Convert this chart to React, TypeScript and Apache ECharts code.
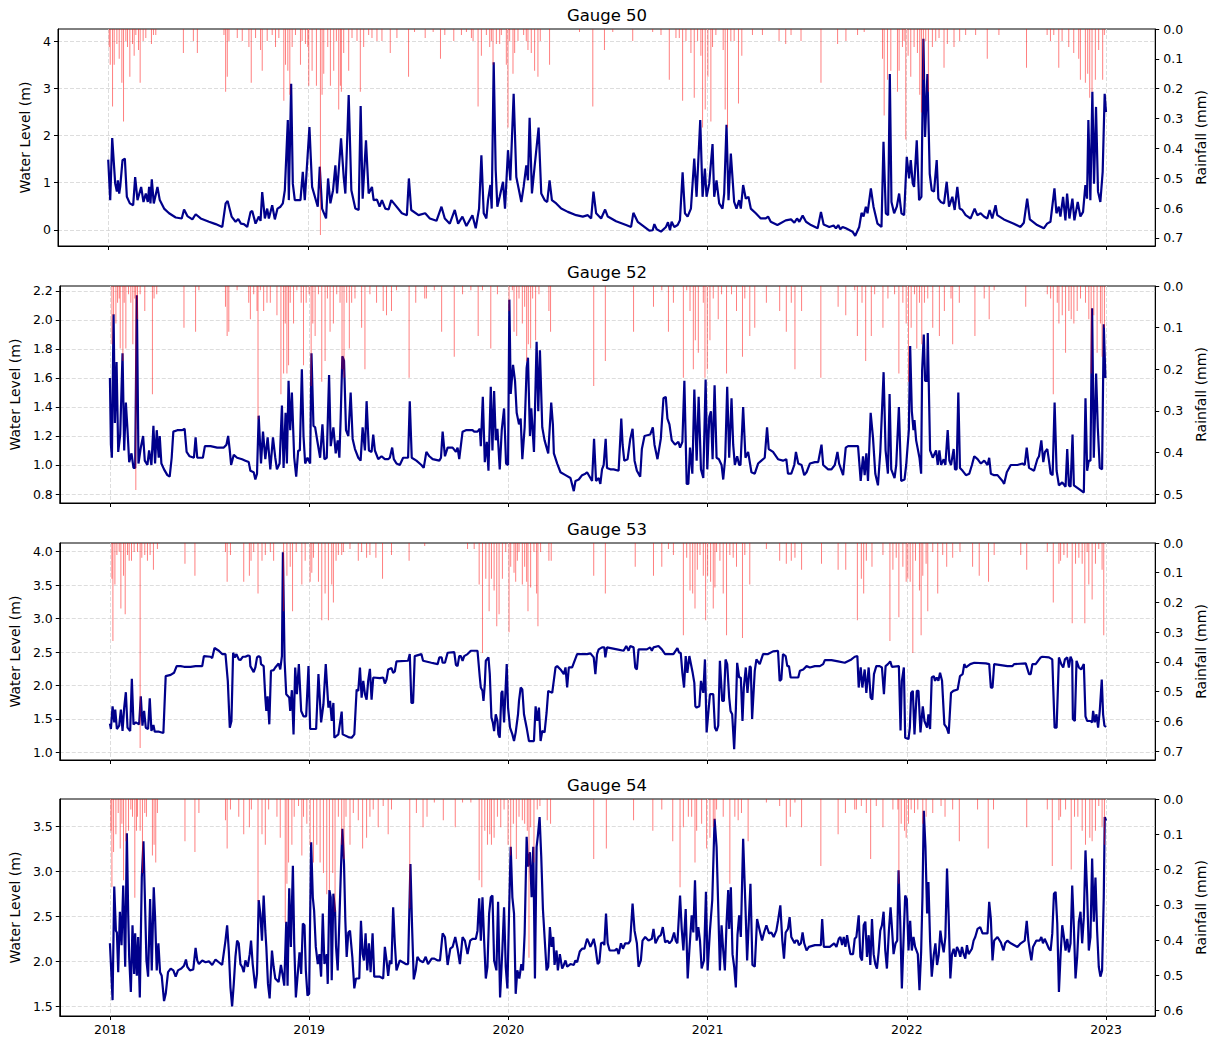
import React, { useEffect, useRef } from 'react';
import * as echarts from 'echarts';

// Time unit: months since 2018-01-01
const yearTicks = [2018, 2019, 2020, 2021, 2022, 2023];
const gaugeNames = ['Gauge 50', 'Gauge 52', 'Gauge 53', 'Gauge 54'];

const levelTicks50 = [0, 1, 2, 3, 4];
const levelTicks52 = [0.8, 1.0, 1.2, 1.4, 1.6, 1.8, 2.0, 2.2];
const levelTicks53 = [1.0, 1.5, 2.0, 2.5, 3.0, 3.5, 4.0];
const levelTicks54 = [1.5, 2.0, 2.5, 3.0, 3.5];
const rainTicks50 = [0, 0.1, 0.2, 0.3, 0.4, 0.5, 0.6, 0.7];
const rainTicks52 = [0, 0.1, 0.2, 0.3, 0.4, 0.5];
const rainTicks53 = [0, 0.1, 0.2, 0.3, 0.4, 0.5, 0.6, 0.7];
const rainTicks54 = [0, 0.1, 0.2, 0.3, 0.4, 0.5, 0.6];

const g50Level = [[0,1.49],[0.12,0.63],[0.24,1.95],[0.42,0.98],[0.52,0.81],[0.58,1.05],[0.66,0.77],[0.72,0.91],[0.86,1.48],[1.0,1.51],[1.12,0.7],[1.3,0.56],[1.5,0.52],[1.62,1.12],[1.76,0.63],[1.98,0.91],[2.12,0.59],[2.26,0.77],[2.38,0.59],[2.46,0.91],[2.54,0.56],[2.62,1.07],[2.74,0.56],[2.96,0.91],[3.1,0.63],[3.36,0.45],[3.66,0.35],[4.06,0.26],[4.42,0.24],[4.56,0.43],[4.76,0.29],[5.06,0.22],[5.26,0.33],[5.56,0.24],[6.06,0.17],[6.46,0.12],[6.86,0.06],[7.06,0.56],[7.18,0.61],[7.42,0.28],[7.66,0.17],[7.82,0.23],[7.98,0.13],[8.16,0.12],[8.36,0.06],[8.56,0.38],[8.66,0.4],[8.86,0.13],[9.06,0.28],[9.16,0.19],[9.26,0.8],[9.42,0.24],[9.56,0.45],[9.66,0.24],[9.86,0.52],[10.02,0.22],[10.18,0.45],[10.36,0.49],[10.5,0.56],[10.62,0.84],[10.8,2.33],[10.86,0.63],[11.0,3.1],[11.1,0.98],[11.22,0.63],[11.56,0.63],[11.7,1.23],[11.82,0.63],[12.1,2.18],[12.26,0.91],[12.6,0.49],[12.72,1.34],[12.86,0.45],[13.1,0.24],[13.22,1.09],[13.36,0.56],[13.52,0.84],[13.66,1.37],[13.76,0.77],[14.0,1.94],[14.16,1.12],[14.26,0.77],[14.46,2.86],[14.62,0.84],[14.86,0.45],[15.06,0.42],[15.18,2.63],[15.3,0.66],[15.5,1.9],[15.66,0.77],[15.86,0.91],[15.96,0.63],[16.16,0.64],[16.32,0.49],[16.46,0.63],[16.66,0.45],[16.86,0.43],[17.02,0.63],[17.66,0.35],[17.96,0.31],[18.08,1.09],[18.22,0.42],[18.66,0.31],[19.06,0.35],
[19.34,0.24],[19.74,0.19],[20.04,0.49],[20.24,0.24],[20.54,0.13],[20.84,0.42],[21.04,0.13],[21.3,0.28],[21.54,0.08],[21.9,0.31],[22.1,0.03],[22.3,0.45],[22.44,1.58],[22.58,0.35],[22.74,0.24],[22.84,0.63],[22.98,0.95],[23.06,0.45],[23.18,3.56],[23.3,1.27],[23.4,0.49],[23.54,0.7],[23.74,1.02],[23.86,0.45],[24.04,1.69],[24.18,1.05],[24.38,2.89],[24.54,1.12],[24.7,0.84],[24.84,0.59],[24.98,0.91],[25.14,1.37],[25.24,1.05],[25.34,2.38],[25.48,0.77],[25.64,1.34],[25.88,2.17],[26.04,0.77],[26.24,0.63],[26.4,0.59],[26.54,1.05],[26.68,0.63],[26.94,0.56],[27.24,0.45],[27.64,0.38],[28.14,0.31],[28.54,0.28],[28.84,0.31],[29.04,0.24],[29.18,0.81],[29.34,0.35],[29.64,0.24],[29.88,0.43],[30.04,0.28],[30.54,0.18],[31.14,0.1],[31.44,0.06],[31.58,0.36],[31.84,0.17],[32.54,-0.02],[32.74,-0.01],[32.84,0.12],[32.98,0.01],[33.24,-0.04],[33.54,0.06],[33.66,0.16],[33.78,-0.01],[33.88,0.17],[34.04,0.06],[34.24,0.1],[34.38,0.2],[34.54,1.22],[34.68,0.35],[34.84,0.28],[35.04,0.45],[35.24,1.51],[35.38,0.7],[35.6,2.33],[35.74,0.7],[35.88,1.3],[35.98,0.7],[36.14,0.98],[36.34,1.82],[36.44,0.7],[36.58,1.05],[36.74,0.56],[36.94,0.45],[37.04,0.77],[37.18,2.23],[37.3,0.63],[37.44,1.62],[37.64,0.59],[37.78,0.45],[37.94,0.63],[38.04,0.45],[38.18,0.95],[38.34,0.66],[38.5,0.7],[38.64,0.45],[38.94,0.35],[39.24,0.24],[39.54,0.24],[39.68,0.28],[39.84,0.17],[40.24,0.1],[40.74,0.2],
[41.06,0.22],[41.26,0.15],[41.42,0.24],[41.56,0.17],[41.76,0.3],[41.96,0.17],[42.26,0.1],[42.66,0.03],[42.86,0.38],[43.02,0.11],[43.36,0.06],[43.62,0.09],[43.76,0.03],[43.9,0.1],[44.02,0.01],[44.16,0.06],[44.36,0.03],[44.76,-0.04],[44.92,-0.13],[45.16,0.06],[45.3,0.36],[45.42,0.28],[45.56,0.49],[45.66,0.35],[45.86,0.88],[46.02,0.49],[46.26,0.13],[46.5,0.06],[46.62,1.87],[46.76,0.35],[46.9,0.31],[47.0,3.31],[47.1,0.59],[47.26,0.35],[47.42,0.49],[47.56,0.77],[47.7,0.35],[47.86,0.31],[48.02,1.55],[48.16,1.09],[48.26,1.48],[48.38,0.98],[48.46,0.91],[48.62,1.9],[48.76,0.63],[48.9,0.7],[49.02,4.06],[49.12,1.97],[49.26,3.31],[49.4,1.19],[49.52,0.84],[49.66,0.81],[49.82,1.48],[49.92,0.66],[50.06,0.59],[50.26,0.56],[50.42,1.02],[50.56,0.49],[50.76,0.7],[50.9,0.42],[51.06,0.91],[51.2,0.45],[51.36,0.42],[51.56,0.31],[51.86,0.24],[52.1,0.45],[52.26,0.31],[52.46,0.35],[52.66,0.28],[52.86,0.24],[53.0,0.42],[53.16,0.24],[53.36,0.52],[53.46,0.31],[53.86,0.22],[54.46,0.13],[54.86,0.06],[55.06,0.15],[55.26,0.66],[55.42,0.22],[55.86,0.1],[56.26,0.03],[56.46,0.13],[56.66,0.17],[56.9,0.88],[57.02,0.35],[57.16,0.49],[57.26,0.28],[57.42,0.7],[57.56,0.2],[57.66,0.77],[57.8,0.24],[57.98,0.66],[58.1,0.2],[58.3,0.59],[58.46,0.28],[58.62,0.38],[58.76,0.95],[58.86,0.66],[58.94,2.33],[59.06,0.63],[59.18,2.93],[59.28,0.98],[59.4,2.61],[59.52,0.81],[59.66,0.59],[59.8,1.23],[59.92,2.89],[60.0,2.5]];

const g50Rain = [[0.06,0.06],[0.12,0.12],[0.26,0.26],[0.36,0.12],[0.52,0.05],[0.66,0.1],[0.82,0.18],[0.92,0.31],[1.06,0.04],[1.16,0.06],[1.3,0.16],[1.46,0.05],[1.56,0.09],[1.66,0.02],[1.82,0.07],[1.92,0.18],[2.1,0.04],[2.26,0.03],[2.6,0.05],[2.72,0.02],[2.86,0.02],[4.52,0.08],[5.12,0.04],[5.36,0.08],[6.96,0.02],[7.06,0.21],[7.16,0.16],[7.26,0.04],[7.76,0.03],[8.06,0.04],[8.46,0.06],[8.6,0.18],[8.86,0.03],[9.16,0.07],[9.26,0.14],[9.56,0.04],[9.86,0.02],[10.06,0.06],[10.26,0.03],[10.56,0.24],[10.66,0.12],[10.8,0.14],[10.92,0.22],[11.06,0.06],[11.26,0.02],[11.56,0.12],[11.66,0.04],[11.86,0.05],[12.0,0.06],[12.06,0.19],[12.26,0.14],[12.52,0.19],[12.76,0.69],[12.86,0.22],[12.96,0.15],[13.2,0.06],[13.36,0.19],[13.56,0.14],[13.72,0.04],[13.86,0.27],[13.96,0.19],[14.02,0.21],[14.16,0.08],[14.46,0.14],[14.66,0.03],[14.96,0.04],[15.16,0.21],[15.36,0.06],[15.66,0.02],[15.86,0.03],[16.16,0.04],[16.46,0.04],[16.96,0.08],[17.36,0.03],[18.06,0.16],[18.42,0.01],[19.06,0.03],
[19.54,0.01],[19.98,0.1],[20.24,0.02],[20.78,0.04],[21.24,0.02],[21.54,0.01],[21.84,0.03],[21.94,0.04],[22.24,0.26],[22.44,0.09],[22.74,0.02],[22.94,0.06],[23.04,0.04],[23.14,0.12],[23.34,0.05],[23.54,0.05],[23.64,0.02],[23.94,0.12],[24.04,0.33],[24.14,0.04],[24.34,0.15],[24.44,0.08],[24.64,0.04],[24.98,0.02],[25.14,0.04],[25.24,0.07],[25.44,0.08],[25.64,0.14],[25.84,0.16],[25.98,0.04],[26.54,0.12],[28.34,0.01],[29.14,0.26],[29.84,0.07],[30.34,0.01],[31.54,0.04],[32.74,0.01],[33.24,0.02],[33.74,0.17],[34.14,0.03],[34.34,0.03],[34.54,0.24],[34.74,0.04],[35.04,0.08],[35.24,0.23],[35.44,0.04],[35.64,0.09],[35.74,0.33],[35.9,0.27],[36.06,0.16],[36.24,0.31],[36.34,0.06],[36.54,0.02],[36.98,0.07],[37.1,0.27],[37.24,0.33],[37.44,0.04],[37.64,0.04],[37.9,0.25],[38.1,0.09],[38.74,0.02],[39.34,0.02],[40.34,0.04],[40.74,0.05],
[41.06,0.02],[41.66,0.04],[42.86,0.18],[43.86,0.05],[44.36,0.04],[45.06,0.02],[45.46,0.01],[46.56,0.1],[46.66,0.29],[46.86,0.17],[47.06,0.14],[47.46,0.21],[47.56,0.14],[47.76,0.06],[47.86,0.04],[47.96,0.37],[48.1,0.09],[48.26,0.16],[48.46,0.06],[48.66,0.08],[48.8,0.22],[48.9,0.28],[49.02,0.17],[49.16,0.04],[49.32,0.21],[49.56,0.06],[49.76,0.04],[49.96,0.03],[50.26,0.13],[50.46,0.05],[50.86,0.06],[51.2,0.04],[51.56,0.02],[52.16,0.02],[52.86,0.1],[53.56,0.02],[55.22,0.13],[56.46,0.02],[56.66,0.04],[56.86,0.02],[57.16,0.13],[57.36,0.04],[57.76,0.06],[58.06,0.08],[58.36,0.1],[58.46,0.17],[58.76,0.18],[58.9,0.15],[59.02,0.23],[59.16,0.21],[59.36,0.17],[59.56,0.07],[59.8,0.17],[59.9,0.02]];

const g52Level = [[0,1.6],[0.06,1.14],[0.12,1.05],[0.22,2.04],[0.3,1.29],[0.4,1.71],[0.5,1.09],[0.62,1.21],[0.76,1.77],[0.86,1.1],[0.96,1.43],[1.06,1.24],[1.16,1.02],[1.3,1.08],[1.42,0.98],[1.52,0.98],[1.62,2.17],[1.72,1.01],[1.86,1.12],[2.0,1.2],[2.1,1.03],[2.26,1.0],[2.36,1.1],[2.5,1.0],[2.62,1.27],[2.72,1.01],[2.82,1.24],[2.94,1.05],[3.0,1.2],[3.1,1.01],[3.26,0.97],[3.46,0.93],[3.6,0.92],[3.72,1.05],[3.82,1.23],[4.06,1.24],[4.36,1.24],[4.5,1.25],[4.62,1.09],[4.8,1.06],[5.06,1.05],[5.16,1.19],[5.26,1.05],[5.6,1.05],[5.72,1.13],[6.06,1.13],[6.46,1.12],[6.86,1.12],[7.02,1.14],[7.12,1.2],[7.22,1.1],[7.3,1.0],[7.46,1.07],[7.66,1.05],[7.96,1.04],[8.16,1.03],[8.36,1.02],[8.46,0.96],[8.66,0.95],[8.76,0.9],[8.86,0.94],[8.96,1.34],[9.1,1.01],[9.22,1.23],[9.36,1.04],[9.5,1.19],[9.66,0.97],[9.82,1.19],[9.96,1.05],[10.06,0.97],[10.22,1.01],[10.36,1.41],[10.46,0.98],[10.58,1.36],[10.66,1.01],[10.76,1.58],[10.86,1.24],[10.96,1.5],[11.1,1.05],[11.22,0.92],[11.34,1.1],[11.44,1.1],[11.56,1.66],[11.66,1.2],[11.76,1.01],[11.9,1.05],[12.06,1.01],[12.14,1.77],[12.26,1.27],[12.36,1.26],[12.5,1.16],[12.66,1.05],[12.8,1.28],[12.92,1.04],[13.06,1.05],[13.2,1.62],[13.3,1.13],[13.46,1.26],[13.6,1.08],[13.72,1.17],[13.82,1.05],[13.9,1.33],[14.0,1.75],[14.1,1.72],[14.22,1.24],[14.36,1.2],[14.5,1.5],[14.62,1.18],[14.76,1.11],[14.96,1.05],[15.1,1.03],[15.22,1.26],[15.36,1.1],[15.46,1.44],[15.6,1.1],[15.76,1.09],[15.86,1.21],[15.96,1.1],[16.16,1.04],[16.36,1.06],[16.56,1.04],[16.76,1.04],[16.86,1.05],[17.0,1.12],[17.1,1.04],[17.26,1.01],[17.46,1.0],[17.66,1.05],[17.96,1.05],[18.06,1.44],[18.18,1.05],[18.46,1.03],[18.76,1.0],[18.9,0.98],[19.06,1.09],
[19.24,1.06],[19.44,1.04],[19.84,1.03],[19.94,1.05],[20.04,1.23],[20.18,1.06],[20.34,1.12],[20.64,1.12],[20.84,1.09],[20.94,1.12],[21.04,1.04],[21.24,1.23],[21.44,1.24],[21.84,1.24],[21.94,1.23],[22.14,1.23],[22.28,1.25],[22.34,1.13],[22.46,1.47],[22.58,1.02],[22.7,1.16],[22.8,0.96],[22.94,1.54],[23.04,1.1],[23.14,1.51],[23.24,1.17],[23.34,1.25],[23.48,0.97],[23.6,1.24],[23.74,1.39],[23.86,1.01],[23.98,1.0],[24.06,2.14],[24.14,1.49],[24.28,1.69],[24.4,1.58],[24.5,1.36],[24.64,1.28],[24.74,1.32],[24.84,1.04],[24.98,1.26],[25.1,1.67],[25.18,1.74],[25.3,1.2],[25.38,1.39],[25.54,1.09],[25.7,1.85],[25.8,1.37],[25.9,1.79],[26.04,1.26],[26.18,1.17],[26.4,1.08],[26.58,1.43],[26.68,1.28],[26.74,1.08],[26.94,1.01],[27.14,0.95],[27.44,0.93],[27.74,0.91],[27.94,0.82],[28.04,0.89],[28.24,0.9],[28.44,0.93],[28.64,0.94],[28.74,0.95],[28.94,0.91],[29.04,0.89],[29.16,1.18],[29.28,0.89],[29.44,0.91],[29.54,0.87],[29.64,0.97],[29.74,1.0],[29.86,1.18],[29.94,0.98],[30.14,0.97],[30.34,0.97],[30.64,0.96],[30.74,1.18],[30.8,1.32],[30.88,1.14],[30.98,1.03],[31.18,1.04],[31.34,1.18],[31.48,1.25],[31.6,1.03],[31.74,0.96],[31.94,0.92],[32.04,1.11],[32.2,1.2],[32.54,1.21],[32.7,1.26],[32.8,1.14],[32.98,1.04],[33.18,1.18],[33.34,1.46],[33.48,1.47],[33.58,1.32],[33.7,1.28],[33.84,1.17],[34.04,1.14],[34.24,1.16],[34.34,1.12],[34.48,1.16],[34.6,1.58],[34.74,0.87],[34.84,0.87],[34.94,1.12],[35.08,0.94],[35.2,1.52],[35.34,1.03],[35.46,1.47],[35.6,0.97],[35.74,0.91],[35.88,1.59],[35.98,0.97],[36.1,1.33],[36.2,1.37],[36.3,1.04],[36.42,1.55],[36.54,1.05],[36.68,1.04],[36.84,1.0],[36.94,0.9],[37.06,1.05],[37.18,1.54],[37.3,1.05],[37.44,1.46],[37.54,1.14],[37.64,1.0],[37.78,1.06],[37.9,1.0],[37.98,1.0],[38.14,1.4],[38.28,1.05],[38.44,1.09],[38.64,0.95],[38.84,0.94],[39.04,1.01],[39.24,1.03],[39.44,1.05],[39.58,1.26],[39.68,1.11],[39.94,1.09],[40.24,1.04],[40.54,1.03],[40.74,1.04],[40.84,0.94],[41.04,0.94],
[41.22,1.0],[41.32,1.09],[41.46,1.01],[41.66,1.0],[41.82,0.93],[41.96,0.95],[42.16,1.01],[42.46,1.02],[42.66,1.02],[42.86,1.14],[42.96,1.0],[43.26,0.97],[43.46,0.97],[43.66,1.0],[43.82,1.09],[43.92,1.01],[44.16,0.93],[44.32,1.12],[44.46,1.13],[44.86,1.13],[45.06,1.13],[45.22,0.89],[45.36,1.06],[45.46,0.93],[45.56,1.08],[45.66,0.89],[45.82,1.36],[45.96,1.19],[46.1,0.94],[46.26,0.86],[46.4,1.09],[46.6,1.64],[46.72,1.1],[46.86,0.94],[46.96,1.49],[47.06,0.97],[47.26,0.91],[47.36,1.0],[47.52,1.4],[47.66,0.89],[47.86,0.9],[47.96,1.0],[48.12,1.24],[48.2,1.82],[48.3,1.37],[48.4,1.24],[48.46,1.31],[48.56,1.17],[48.76,1.05],[48.86,0.94],[48.92,1.65],[49.02,1.9],[49.1,1.58],[49.22,1.58],[49.26,1.91],[49.4,1.1],[49.56,1.05],[49.76,1.1],[49.86,1.0],[49.96,1.1],[50.06,1.0],[50.22,1.04],[50.32,1.0],[50.46,1.24],[50.56,1.03],[50.66,1.0],[50.82,1.11],[50.9,0.97],[51.0,0.97],[51.1,1.5],[51.2,0.98],[51.36,0.96],[51.56,0.93],[51.76,0.94],[51.92,1.0],[52.06,1.06],[52.26,1.04],[52.46,1.01],[52.66,1.03],[52.86,1.0],[52.96,1.05],[53.06,0.94],[53.26,0.93],[53.46,0.93],[53.76,0.89],[53.86,0.87],[54.02,0.95],[54.26,1.0],[54.66,1.0],[54.96,1.01],[55.1,1.0],[55.22,1.12],[55.36,0.98],[55.66,0.96],[55.86,1.04],[55.96,1.06],[56.1,1.17],[56.22,1.02],[56.32,1.09],[56.46,1.11],[56.56,1.03],[56.66,0.94],[56.78,0.93],[56.9,1.43],[57.02,0.96],[57.16,0.86],[57.36,0.88],[57.56,0.85],[57.66,1.11],[57.76,0.86],[57.86,0.85],[57.98,1.21],[58.06,0.86],[58.42,0.83],[58.66,0.81],[58.76,1.46],[58.86,0.96],[58.96,1.03],[59.06,1.03],[59.16,2.08],[59.26,1.05],[59.4,1.63],[59.5,1.26],[59.62,0.98],[59.76,0.97],[59.86,1.97],[59.96,1.6]];

const g52Rain = [[0.12,0.14],[0.22,0.07],[0.36,0.09],[0.46,0.04],[0.56,0.03],[0.62,0.15],[0.78,0.18],[0.86,0.04],[0.96,0.15],[1.12,0.02],[1.26,0.04],[1.38,0.14],[1.5,0.03],[1.56,0.49],[1.66,0.08],[1.82,0.02],[2.1,0.06],[2.56,0.26],[2.66,0.03],[2.82,0.02],[4.46,0.1],[5.16,0.11],[5.36,0.01],[6.96,0.05],[7.06,0.12],[7.16,0.11],[7.66,0.01],[8.36,0.04],[8.46,0.08],[8.66,0.02],[8.86,0.06],[8.92,0.32],[9.06,0.01],[9.26,0.06],[9.46,0.04],[9.66,0.04],[10.06,0.07],[10.3,0.26],[10.46,0.21],[10.56,0.09],[10.66,0.21],[10.76,0.19],[10.86,0.04],[11.06,0.09],[11.26,0.01],[11.52,0.04],[11.66,0.19],[11.82,0.04],[12.0,0.02],[12.12,0.24],[12.22,0.09],[12.36,0.12],[12.56,0.02],[12.76,0.23],[12.96,0.18],[13.1,0.03],[13.26,0.11],[13.46,0.09],[13.66,0.02],[13.86,0.04],[13.98,0.2],[14.1,0.22],[14.26,0.04],[14.42,0.15],[14.56,0.04],[14.76,0.03],[15.16,0.1],[15.36,0.2],[15.66,0.02],[16.06,0.04],[16.46,0.06],[16.66,0.07],[16.96,0.06],[17.26,0.01],[18.02,0.22],[18.42,0.04],[18.96,0.03],[19.06,0.03],
[19.54,0.01],[19.98,0.11],[20.74,0.17],[21.24,0.02],[21.74,0.01],[22.18,0.12],[22.44,0.01],[22.94,0.15],[23.34,0.02],[24.04,0.06],[24.24,0.01],[24.34,0.11],[24.5,0.12],[24.64,0.03],[24.84,0.09],[24.98,0.05],[25.1,0.18],[25.2,0.14],[25.34,0.15],[25.46,0.03],[25.64,0.13],[25.84,0.02],[26.44,0.06],[26.54,0.11],[29.14,0.24],[29.84,0.18],[31.54,0.11],[32.74,0.05],[33.24,0.01],[33.64,0.11],[33.94,0.04],[34.54,0.22],[34.74,0.01],[34.94,0.06],[35.14,0.2],[35.26,0.13],[35.44,0.16],[35.74,0.04],[35.84,0.22],[35.98,0.2],[36.14,0.13],[36.34,0.03],[36.64,0.08],[36.84,0.02],[37.14,0.21],[37.44,0.02],[37.74,0.06],[38.1,0.17],[38.24,0.03],[38.54,0.12],[38.84,0.1],[39.54,0.04],[40.34,0.06],[40.74,0.11],[41.04,0.04],
[41.26,0.2],[41.66,0.06],[42.82,0.22],[43.86,0.05],[44.32,0.07],[44.86,0.01],[45.02,0.12],[45.3,0.04],[45.52,0.18],[45.86,0.12],[46.06,0.02],[46.56,0.1],[46.86,0.03],[47.26,0.02],[47.52,0.21],[47.76,0.04],[47.96,0.09],[48.1,0.23],[48.26,0.1],[48.46,0.02],[48.6,0.15],[48.76,0.04],[48.9,0.14],[49.06,0.04],[49.26,0.03],[49.56,0.1],[49.96,0.12],[50.26,0.06],[50.66,0.03],[50.76,0.14],[51.16,0.04],[52.1,0.12],[52.66,0.03],[52.96,0.08],[53.26,0.01],[55.16,0.05],[56.46,0.02],[56.66,0.03],[56.82,0.26],[57.06,0.04],[57.16,0.09],[57.36,0.07],[57.56,0.16],[57.76,0.06],[57.9,0.08],[58.06,0.09],[58.26,0.06],[58.46,0.03],[58.76,0.04],[58.96,0.08],[59.1,0.21],[59.26,0.07],[59.46,0.16],[59.66,0.09],[59.76,0.17],[59.9,0.1]];

const g53Level = [[0,1.43],[0.06,1.35],[0.16,1.69],[0.26,1.45],[0.32,1.64],[0.42,1.35],[0.56,1.4],[0.66,1.64],[0.76,1.32],[0.86,1.67],[0.96,1.9],[1.06,1.37],[1.22,1.32],[1.32,2.1],[1.42,1.42],[1.56,1.45],[1.76,1.42],[1.86,1.84],[1.96,1.4],[2.06,1.62],[2.16,1.37],[2.3,1.35],[2.4,1.81],[2.5,1.32],[2.62,1.41],[2.7,1.31],[2.96,1.31],[3.22,1.29],[3.36,2.14],[3.66,2.16],[3.86,2.19],[4.02,2.29],[4.26,2.29],[4.46,2.28],[4.86,2.28],[5.16,2.29],[5.56,2.29],[5.66,2.44],[6.06,2.43],[6.16,2.41],[6.3,2.56],[6.56,2.52],[6.76,2.47],[6.96,2.47],[7.1,2.07],[7.22,1.37],[7.32,1.47],[7.42,2.49],[7.52,2.42],[7.62,2.47],[7.76,2.39],[7.86,2.38],[8.0,2.43],[8.16,2.43],[8.32,2.45],[8.42,2.44],[8.46,2.29],[8.66,2.2],[8.76,2.27],[8.86,2.42],[8.96,2.44],[9.06,2.42],[9.1,2.32],[9.26,2.29],[9.36,1.82],[9.42,1.62],[9.5,1.84],[9.6,1.42],[9.7,2.22],[9.86,2.23],[9.96,2.27],[10.16,2.33],[10.26,2.24],[10.36,2.44],[10.42,3.99],[10.52,2.37],[10.62,1.87],[10.8,1.82],[10.86,1.62],[10.96,1.93],[11.06,1.27],[11.16,2.27],[11.26,1.87],[11.38,2.32],[11.52,1.62],[11.66,1.54],[11.82,1.54],[11.96,2.29],[12.06,1.35],[12.26,1.35],[12.42,1.35],[12.56,2.17],[12.72,1.45],[12.86,1.72],[13.0,2.32],[13.16,1.67],[13.26,1.77],[13.36,1.47],[13.46,1.74],[13.52,1.22],[13.76,1.27],[13.96,1.61],[14.02,1.27],[14.36,1.23],[14.56,1.22],[14.72,1.27],[14.86,1.94],[14.96,1.92],[15.06,2.27],[15.16,1.82],[15.26,2.07],[15.36,1.87],[15.46,1.79],[15.56,2.08],[15.66,2.25],[15.76,1.79],[15.86,2.12],[16.26,2.11],[16.46,2.12],[16.56,2.03],[16.66,2.09],[16.76,2.24],[16.96,2.26],[17.06,2.19],[17.16,2.21],[17.26,2.36],[17.96,2.37],[18.06,2.47],[18.16,1.74],[18.26,1.74],[18.36,2.44],[18.76,2.47],[18.86,2.37],[19.36,2.34],
[19.54,2.33],[19.74,2.32],[19.84,2.42],[19.98,2.42],[20.04,2.34],[20.18,2.34],[20.34,2.49],[20.74,2.5],[20.84,2.31],[20.94,2.29],[21.04,2.44],[21.14,2.44],[21.24,2.37],[21.34,2.44],[21.54,2.47],[21.74,2.52],[22.14,2.52],[22.28,2.12],[22.34,1.97],[22.44,1.92],[22.5,1.77],[22.58,2.02],[22.64,2.37],[22.8,2.42],[22.88,2.17],[22.98,1.52],[23.06,1.45],[23.14,1.32],[23.24,1.57],[23.34,1.47],[23.4,1.27],[23.48,1.22],[23.58,1.89],[23.64,1.92],[23.74,1.45],[23.9,2.32],[23.98,1.67],[24.1,1.37],[24.24,1.27],[24.34,1.17],[24.44,1.3],[24.58,1.57],[24.64,1.77],[24.74,1.97],[24.84,1.94],[24.94,1.57],[25.1,1.37],[25.24,1.17],[25.54,1.17],[25.64,1.69],[25.74,1.47],[25.84,1.67],[25.94,1.17],[26.04,1.32],[26.18,1.3],[26.3,1.59],[26.4,1.92],[26.64,1.89],[26.84,2.27],[26.94,2.29],[27.14,2.24],[27.34,2.17],[27.44,2.27],[27.54,1.97],[27.64,2.27],[27.84,2.27],[28.14,2.47],[28.74,2.47],[28.94,2.48],[29.14,2.42],[29.24,2.17],[29.34,2.47],[29.44,2.54],[29.64,2.57],[29.78,2.57],[29.84,2.42],[29.94,2.57],[30.54,2.54],[30.94,2.52],[31.1,2.59],[31.24,2.52],[31.34,2.59],[31.54,2.57],[31.64,2.27],[31.74,2.24],[31.84,2.54],[32.34,2.54],[32.54,2.57],[32.64,2.52],[32.74,2.57],[33.04,2.59],[33.24,2.54],[33.44,2.47],[33.94,2.47],[34.18,2.56],[34.28,2.49],[34.38,2.49],[34.48,2.19],[34.58,1.97],[34.68,2.44],[34.78,2.19],[34.9,2.44],[35.1,2.19],[35.2,2.04],[35.26,1.69],[35.34,1.67],[35.5,1.69],[35.6,2.07],[35.74,1.89],[35.84,2.39],[35.94,1.3],[36.14,1.87],[36.34,1.87],[36.44,1.37],[36.54,1.32],[36.64,1.4],[36.74,2.37],[36.88,1.77],[36.98,1.77],[37.08,2.39],[37.18,2.32],[37.3,1.82],[37.38,1.62],[37.48,1.57],[37.6,1.05],[37.7,1.64],[37.78,2.34],[37.9,2.12],[38.0,2.12],[38.1,1.47],[38.18,1.97],[38.3,2.27],[38.4,1.89],[38.54,2.29],[38.6,2.27],[38.68,1.5],[38.84,2.22],[38.94,2.39],[39.14,2.32],[39.34,2.47],[39.64,2.47],[39.94,2.51],[40.24,2.52],[40.34,2.07],[40.44,2.09],[40.54,2.47],[40.7,2.44],[40.8,2.29],[40.9,2.29],[41.0,2.12],
[41.26,2.12],[41.46,2.12],[41.56,2.22],[41.76,2.24],[41.96,2.29],[42.16,2.27],[42.46,2.29],[42.76,2.29],[42.96,2.32],[43.06,2.38],[43.46,2.38],[43.86,2.36],[44.26,2.34],[44.66,2.39],[44.86,2.43],[45.02,2.44],[45.1,1.97],[45.22,2.27],[45.32,1.97],[45.46,2.24],[45.56,1.89],[45.7,2.27],[45.82,1.82],[45.92,1.79],[46.02,2.17],[46.16,2.29],[46.36,2.29],[46.5,2.27],[46.62,1.87],[46.72,2.29],[46.86,2.32],[47.0,2.36],[47.1,2.28],[47.52,2.29],[47.62,1.33],[47.7,2.07],[47.82,2.27],[47.9,1.22],[48.1,1.2],[48.18,1.37],[48.26,1.89],[48.36,1.92],[48.46,1.27],[48.6,1.92],[48.7,1.92],[48.82,1.3],[48.96,1.69],[49.06,1.47],[49.22,1.37],[49.3,1.57],[49.4,1.35],[49.5,2.12],[49.62,2.14],[49.7,2.07],[49.8,2.12],[49.9,2.07],[50.0,2.19],[50.12,2.07],[50.26,1.42],[50.4,1.37],[50.52,1.28],[50.66,1.89],[50.8,1.92],[51.06,1.94],[51.2,2.14],[51.36,2.17],[51.46,2.32],[51.56,2.27],[51.82,2.32],[52.06,2.34],[52.76,2.33],[52.96,2.32],[53.06,1.97],[53.16,1.97],[53.26,2.32],[54.06,2.29],[54.36,2.29],[54.46,2.32],[55.16,2.33],[55.36,2.17],[55.46,2.17],[55.56,2.32],[55.76,2.32],[56.06,2.42],[56.16,2.43],[56.56,2.42],[56.76,2.39],[56.9,1.37],[57.02,1.37],[57.16,2.42],[57.3,2.32],[57.42,2.27],[57.52,2.39],[57.66,2.42],[57.76,2.27],[57.86,2.43],[57.96,2.37],[58.0,1.5],[58.12,1.47],[58.22,2.37],[58.36,2.27],[58.5,2.24],[58.66,2.32],[58.76,1.54],[58.86,1.47],[59.06,1.47],[59.16,1.45],[59.22,1.62],[59.32,1.45],[59.42,1.57],[59.52,1.37],[59.62,1.62],[59.74,2.09],[59.82,1.57],[59.9,1.4],[60.0,1.38]];

const g53Rain = [[0.12,0.12],[0.18,0.33],[0.3,0.14],[0.42,0.04],[0.56,0.03],[0.66,0.22],[0.82,0.11],[0.92,0.24],[1.06,0.04],[1.16,0.06],[1.3,0.06],[1.46,0.03],[1.66,0.03],[1.82,0.69],[1.92,0.05],[2.1,0.04],[2.26,0.06],[2.42,0.04],[2.62,0.09],[2.86,0.02],[4.52,0.07],[5.12,0.11],[6.96,0.03],[7.06,0.13],[7.26,0.04],[8.06,0.13],[8.4,0.11],[8.5,0.06],[8.66,0.03],[8.92,0.17],[9.16,0.06],[9.36,0.04],[9.66,0.03],[9.86,0.06],[10.46,0.23],[10.66,0.11],[10.86,0.08],[11.0,0.23],[11.22,0.03],[11.56,0.14],[11.76,0.06],[12.06,0.13],[12.16,0.1],[12.26,0.05],[12.56,0.13],[12.76,0.26],[12.96,0.17],[13.16,0.26],[13.36,0.14],[13.46,0.2],[13.62,0.06],[13.76,0.04],[13.96,0.04],[14.06,0.03],[14.46,0.02],[14.96,0.06],[15.16,0.03],[15.46,0.05],[15.66,0.04],[16.02,0.05],[16.42,0.12],[16.96,0.04],[18.02,0.06],[18.96,0.01],
[21.54,0.02],[21.94,0.02],[22.24,0.14],[22.44,0.37],[22.64,0.12],[22.84,0.23],[22.98,0.12],[23.14,0.16],[23.3,0.28],[23.44,0.24],[23.64,0.12],[23.84,0.03],[24.04,0.3],[24.14,0.08],[24.34,0.1],[24.44,0.13],[24.54,0.06],[24.64,0.03],[24.84,0.14],[24.98,0.08],[25.1,0.13],[25.18,0.23],[25.34,0.15],[25.54,0.03],[25.7,0.17],[25.78,0.28],[25.94,0.03],[26.44,0.06],[26.58,0.06],[29.14,0.11],[29.84,0.17],[31.64,0.08],[32.74,0.11],[33.24,0.08],[33.64,0.02],[33.94,0.04],[34.54,0.31],[34.74,0.05],[34.94,0.16],[35.1,0.17],[35.24,0.22],[35.38,0.09],[35.54,0.04],[35.74,0.11],[35.88,0.26],[36.0,0.11],[36.18,0.13],[36.34,0.22],[36.44,0.15],[36.54,0.03],[36.74,0.06],[36.94,0.17],[37.14,0.31],[37.34,0.04],[37.54,0.05],[37.74,0.08],[38.1,0.32],[38.24,0.04],[38.54,0.14],[39.54,0.02],[40.34,0.06],[40.74,0.07],[41.04,0.06],
[41.26,0.05],[41.66,0.09],[42.86,0.07],[43.86,0.09],[44.32,0.09],[45.02,0.26],[45.26,0.12],[45.4,0.17],[45.56,0.06],[45.9,0.08],[46.56,0.04],[46.98,0.33],[47.16,0.09],[47.36,0.05],[47.52,0.25],[47.76,0.08],[47.96,0.13],[48.06,0.12],[48.2,0.13],[48.36,0.37],[48.52,0.06],[48.76,0.16],[48.86,0.31],[48.96,0.11],[49.16,0.07],[49.26,0.23],[49.56,0.03],[49.86,0.17],[50.16,0.04],[50.4,0.08],[50.76,0.05],[51.2,0.03],[51.96,0.08],[52.36,0.11],[52.92,0.13],[53.26,0.04],[54.86,0.04],[55.22,0.09],[56.46,0.03],[56.82,0.2],[57.16,0.07],[57.26,0.06],[57.46,0.04],[57.66,0.05],[57.96,0.27],[58.16,0.07],[58.36,0.05],[58.56,0.07],[58.72,0.27],[58.86,0.03],[58.96,0.14],[59.16,0.19],[59.36,0.07],[59.56,0.02],[59.76,0.09],[59.86,0.31]];

const g54Level = [[0,2.2],[0.06,1.97],[0.16,1.57],[0.26,2.83],[0.36,2.34],[0.42,2.32],[0.5,1.88],[0.6,2.55],[0.7,2.18],[0.8,2.84],[0.92,1.94],[1.02,3.42],[1.1,2.53],[1.16,2.05],[1.26,1.66],[1.36,2.4],[1.46,1.86],[1.52,2.31],[1.62,1.84],[1.7,2.27],[1.8,1.6],[1.92,2.93],[2.02,3.33],[2.1,2.75],[2.2,2.01],[2.3,1.83],[2.42,2.69],[2.52,1.9],[2.64,2.82],[2.72,2.49],[2.82,1.9],[2.92,2.2],[3.02,1.88],[3.12,1.84],[3.26,1.56],[3.36,1.64],[3.5,1.88],[3.66,1.92],[3.82,1.9],[3.96,1.83],[4.1,1.9],[4.3,1.92],[4.46,1.95],[4.58,2.02],[4.66,1.94],[4.82,1.9],[5.02,1.91],[5.16,2.15],[5.26,2.01],[5.36,1.97],[5.56,2.01],[5.76,1.99],[5.96,2.0],[6.16,1.96],[6.36,2.02],[6.56,1.99],[6.76,1.96],[6.96,2.23],[7.06,2.4],[7.16,2.12],[7.26,1.71],[7.36,1.5],[7.46,1.75],[7.56,2.05],[7.66,2.23],[7.76,2.2],[7.86,1.97],[7.96,1.94],[8.06,1.88],[8.16,2.01],[8.3,1.94],[8.42,2.08],[8.5,2.23],[8.6,1.97],[8.76,1.7],[8.86,1.86],[8.96,2.68],[9.06,2.53],[9.16,2.23],[9.26,2.73],[9.36,2.34],[9.42,2.16],[9.52,1.75],[9.62,1.59],[9.76,2.12],[9.86,1.94],[9.96,1.81],[10.16,1.77],[10.3,1.96],[10.42,1.83],[10.5,1.73],[10.62,2.44],[10.7,1.73],[10.8,2.81],[10.9,2.16],[11.02,3.06],[11.1,2.2],[11.2,1.6],[11.3,1.83],[11.42,2.1],[11.52,1.86],[11.62,2.42],[11.72,2.4],[11.8,1.9],[11.9,1.62],[12.0,1.64],[12.12,3.32],[12.22,2.71],[12.3,2.56],[12.4,2.16],[12.52,1.97],[12.62,2.08],[12.72,1.83],[12.82,2.53],[12.92,1.97],[13.06,2.08],[13.12,1.75],[13.22,2.79],[13.3,2.71],[13.36,1.79],[13.46,2.75],[13.56,2.56],[13.62,2.16],[13.72,1.9],[13.82,2.45],[13.92,3.05],[14.0,3.47],[14.1,3.08],[14.18,2.45],[14.26,2.05],[14.36,2.32],[14.46,2.34],[14.6,2.05],[14.72,1.7],[14.82,1.81],[15.02,1.81],[15.12,2.45],[15.22,2.08],[15.3,2.01],[15.4,2.31],[15.5,1.9],[15.6,2.2],[15.7,1.88],[15.82,2.31],[15.92,1.83],[16.26,1.83],[16.46,1.81],[16.56,2.16],[16.66,2.01],[16.76,1.84],[16.86,2.01],[16.96,1.97],[17.06,2.6],[17.16,2.2],[17.26,1.9],[17.46,2.01],[17.82,1.97],[17.96,1.97],[18.02,2.45],[18.1,3.08],[18.2,2.38],[18.3,1.8],[18.42,1.9],[18.52,2.05],[18.66,2.01],[18.86,1.99],[19.02,2.05],[19.16,1.97],
[19.38,2.03],[19.54,2.03],[19.74,2.01],[19.88,2.01],[20.04,2.31],[20.18,2.27],[20.34,1.96],[20.5,2.14],[20.64,2.16],[20.8,2.27],[20.94,2.14],[21.08,1.97],[21.24,2.27],[21.38,2.23],[21.54,2.08],[21.7,2.23],[21.84,2.25],[22.04,2.25],[22.14,2.34],[22.24,2.7],[22.34,2.23],[22.44,2.71],[22.54,2.23],[22.64,1.81],[22.74,1.94],[22.84,2.53],[22.94,2.71],[23.04,2.73],[23.14,2.01],[23.28,1.9],[23.38,2.66],[23.5,1.6],[23.64,2.14],[23.74,2.6],[23.84,1.94],[23.94,1.7],[24.04,2.53],[24.14,3.27],[24.24,2.71],[24.34,2.53],[24.44,1.64],[24.54,1.9],[24.66,1.81],[24.78,1.97],[24.88,1.9],[24.98,2.31],[25.1,3.38],[25.18,3.05],[25.3,3.21],[25.4,2.71],[25.5,3.27],[25.6,1.81],[25.7,3.27],[25.78,3.4],[25.88,3.6],[25.98,3.16],[26.08,2.58],[26.18,2.27],[26.3,1.9],[26.4,1.94],[26.5,2.38],[26.6,2.16],[26.7,2.27],[26.78,1.96],[26.9,2.12],[26.98,1.9],[27.1,2.08],[27.24,1.92],[27.34,1.96],[27.44,2.01],[27.54,1.94],[27.74,1.97],[27.94,1.96],[28.04,2.01],[28.14,1.99],[28.3,2.11],[28.44,2.14],[28.58,2.14],[28.74,2.25],[28.84,2.21],[28.94,2.16],[29.04,2.2],[29.14,2.25],[29.24,2.16],[29.38,1.97],[29.48,1.99],[29.58,2.2],[29.7,2.21],[29.78,2.18],[29.88,2.53],[29.98,2.2],[30.1,2.12],[30.4,2.12],[30.54,2.14],[30.64,2.08],[30.78,2.2],[30.9,2.14],[31.04,2.2],[31.24,2.2],[31.34,2.23],[31.48,2.64],[31.6,2.34],[31.74,2.2],[31.84,1.94],[31.98,2.01],[32.08,2.23],[32.24,2.27],[32.44,2.23],[32.64,2.25],[32.74,2.36],[32.86,2.2],[33.04,2.27],[33.18,2.29],[33.3,2.38],[33.44,2.21],[33.58,2.23],[33.7,2.2],[33.84,2.23],[33.98,2.32],[34.08,2.23],[34.18,2.2],[34.34,2.73],[34.44,2.36],[34.54,2.12],[34.68,2.58],[34.8,1.81],[34.9,2.12],[35.04,2.51],[35.14,2.32],[35.24,2.9],[35.34,2.23],[35.44,2.38],[35.54,2.23],[35.64,1.92],[35.78,2.01],[35.9,2.77],[36.0,1.9],[36.14,2.34],[36.28,2.68],[36.42,3.58],[36.54,3.27],[36.64,2.6],[36.74,1.9],[36.84,2.4],[36.94,2.12],[37.04,1.9],[37.14,2.42],[37.24,2.79],[37.3,2.36],[37.4,2.82],[37.5,2.08],[37.6,1.94],[37.7,1.71],[37.8,2.29],[37.9,2.51],[38.0,2.27],[38.14,3.36],[38.28,2.6],[38.38,2.01],[38.48,2.44],[38.58,2.86],[38.7,1.96],[38.84,1.94],[38.98,2.47],[39.14,2.34],[39.28,2.23],[39.4,2.32],[39.54,2.4],[39.7,2.31],[39.84,2.32],[39.98,2.27],[40.14,2.34],[40.24,2.45],[40.38,2.62],[40.5,2.23],[40.6,2.03],[40.7,2.32],[40.84,2.36],[40.94,2.49],[41.04,2.27],[41.24,2.2],
[41.3,2.23],[41.42,2.23],[41.5,2.18],[41.62,2.2],[41.72,2.32],[41.82,2.2],[41.96,2.12],[42.1,2.16],[42.46,2.18],[42.82,2.18],[42.9,2.47],[43.0,2.16],[43.36,2.16],[43.62,2.2],[43.76,2.16],[43.9,2.25],[44.0,2.27],[44.1,2.18],[44.2,2.27],[44.3,2.16],[44.4,2.29],[44.5,2.18],[44.6,2.08],[44.76,2.08],[44.86,2.25],[44.96,2.27],[45.1,2.51],[45.2,2.05],[45.3,2.01],[45.4,2.4],[45.5,2.44],[45.6,2.05],[45.7,2.29],[45.8,1.96],[45.9,2.47],[46.0,2.08],[46.1,1.97],[46.2,1.92],[46.3,2.1],[46.4,2.34],[46.5,2.4],[46.6,2.55],[46.7,2.12],[46.8,1.92],[46.92,2.34],[47.02,2.6],[47.1,2.38],[47.2,2.08],[47.32,2.2],[47.42,2.23],[47.5,3.01],[47.6,2.45],[47.7,1.7],[47.82,2.34],[47.9,2.73],[48.0,2.69],[48.1,2.12],[48.2,2.45],[48.3,2.12],[48.4,2.27],[48.5,2.16],[48.66,2.08],[48.76,1.68],[48.86,2.1],[48.94,2.71],[49.02,3.67],[49.12,3.27],[49.22,2.53],[49.3,2.88],[49.4,2.23],[49.5,1.83],[49.62,2.07],[49.72,2.2],[49.82,1.96],[49.92,2.07],[50.02,2.34],[50.12,2.2],[50.22,2.1],[50.32,2.27],[50.42,3.03],[50.52,2.49],[50.62,1.81],[50.72,2.08],[50.82,2.14],[50.92,2.05],[51.02,2.16],[51.12,2.12],[51.22,2.05],[51.32,2.16],[51.42,2.08],[51.52,2.03],[51.62,2.18],[51.72,2.08],[51.92,2.14],[52.02,2.23],[52.12,2.27],[52.26,2.36],[52.42,2.38],[52.56,2.31],[52.86,2.31],[52.96,2.66],[53.06,2.47],[53.16,2.01],[53.26,2.23],[53.46,2.27],[53.66,2.21],[53.82,2.12],[53.92,2.2],[54.06,2.23],[54.26,2.2],[54.66,2.16],[54.86,2.2],[55.1,2.23],[55.22,2.45],[55.32,2.23],[55.42,2.1],[55.5,2.01],[55.6,2.16],[55.8,2.23],[56.0,2.23],[56.1,2.27],[56.2,2.2],[56.3,2.25],[56.42,2.2],[56.56,2.14],[56.66,2.12],[56.76,2.31],[56.86,2.75],[56.96,2.77],[57.06,2.42],[57.16,1.66],[57.26,2.07],[57.36,2.4],[57.46,2.27],[57.56,2.12],[57.66,2.25],[57.76,2.1],[57.86,2.2],[57.96,2.84],[58.06,2.38],[58.16,1.81],[58.26,2.05],[58.36,2.44],[58.46,2.55],[58.56,2.2],[58.66,2.49],[58.76,3.23],[58.86,2.75],[58.96,2.12],[59.06,2.27],[59.16,3.14],[59.26,2.44],[59.36,2.93],[59.46,2.34],[59.56,1.94],[59.66,1.83],[59.76,1.9],[59.86,2.71],[59.92,3.6],[60.0,3.56]];

const g54Rain = [[0.06,0.09],[0.12,0.25],[0.22,0.15],[0.36,0.1],[0.5,0.04],[0.62,0.14],[0.72,0.07],[0.82,0.23],[0.96,0.12],[1.12,0.09],[1.26,0.03],[1.36,0.05],[1.5,0.28],[1.6,0.09],[1.66,0.05],[1.82,0.09],[1.96,0.21],[2.1,0.04],[2.2,0.05],[2.56,0.16],[2.66,0.13],[2.76,0.18],[2.86,0.04],[4.52,0.12],[5.12,0.15],[5.36,0.04],[6.96,0.06],[7.06,0.14],[7.26,0.03],[7.76,0.05],[8.06,0.1],[8.4,0.08],[8.52,0.03],[8.92,0.29],[9.16,0.1],[9.36,0.13],[9.56,0.03],[10.06,0.05],[10.26,0.11],[10.56,0.35],[10.66,0.24],[10.76,0.18],[10.96,0.13],[11.1,0.05],[11.36,0.02],[11.56,0.16],[11.66,0.05],[11.86,0.07],[12.06,0.13],[12.26,0.18],[12.46,0.13],[12.66,0.18],[12.86,0.21],[13.06,0.27],[13.22,0.26],[13.42,0.21],[13.56,0.32],[13.76,0.05],[13.96,0.13],[14.1,0.17],[14.22,0.05],[14.46,0.13],[14.66,0.04],[14.96,0.06],[15.22,0.14],[15.46,0.11],[15.66,0.05],[15.86,0.03],[16.16,0.08],[16.46,0.02],[16.76,0.1],[16.96,0.03],[18.06,0.31],[18.46,0.04],[18.86,0.08],[19.1,0.05],
[19.54,0.01],[20.08,0.06],[20.8,0.08],[21.24,0.01],[21.74,0.01],[22.24,0.23],[22.4,0.25],[22.58,0.09],[22.74,0.13],[22.88,0.1],[22.98,0.13],[23.14,0.11],[23.34,0.05],[23.54,0.08],[23.74,0.03],[23.98,0.13],[24.14,0.16],[24.3,0.07],[24.48,0.17],[24.64,0.05],[24.84,0.06],[24.98,0.07],[25.14,0.09],[25.24,0.45],[25.34,0.08],[25.54,0.18],[25.74,0.03],[25.9,0.02],[26.34,0.06],[26.54,0.07],[29.14,0.17],[29.9,0.14],[31.54,0.06],[32.7,0.09],[33.24,0.03],[33.9,0.12],[34.34,0.25],[34.54,0.08],[34.84,0.05],[35.04,0.05],[35.24,0.18],[35.34,0.09],[35.64,0.07],[35.94,0.14],[36.14,0.11],[36.34,0.08],[36.44,0.06],[36.54,0.03],[36.94,0.05],[37.34,0.24],[37.64,0.05],[37.84,0.06],[38.04,0.04],[38.44,0.12],[39.54,0.01],[40.34,0.02],[40.74,0.08],[40.98,0.05],
[41.26,0.01],[41.66,0.08],[42.82,0.19],[43.86,0.1],[44.3,0.04],[44.86,0.03],[44.96,0.03],[45.26,0.02],[45.56,0.04],[45.82,0.17],[46.16,0.02],[46.56,0.08],[47.16,0.03],[47.46,0.03],[47.52,0.24],[47.66,0.07],[47.86,0.09],[47.96,0.11],[48.1,0.07],[48.26,0.03],[48.46,0.04],[48.66,0.03],[48.96,0.07],[49.16,0.05],[49.56,0.04],[50.06,0.02],[50.3,0.05],[50.76,0.03],[51.16,0.12],[52.26,0.03],[52.9,0.14],[53.22,0.03],[55.22,0.08],[56.46,0.03],[56.76,0.19],[57.16,0.06],[57.26,0.05],[57.56,0.03],[57.9,0.2],[58.1,0.05],[58.3,0.05],[58.56,0.09],[58.76,0.13],[59.02,0.11],[59.16,0.12],[59.36,0.09],[59.56,0.02],[59.76,0.08],[59.9,0.13]];

const FONT = 'DejaVu Sans';
const levelSeries = [g50Level, g52Level, g53Level, g54Level];
const rainSeries = [g50Rain, g52Rain, g53Rain, g54Rain];
const levelTicks = [levelTicks50, levelTicks52, levelTicks53, levelTicks54];
const rainTicks = [rainTicks50, rainTicks52, rainTicks53, rainTicks54];

export default function App() {
  const ref = useRef<HTMLDivElement>(null);
  useEffect(() => {
    if (!ref.current) return;
    const chart = echarts.init(ref.current, undefined, { renderer: 'svg' });
    const monthTicks = yearTicks.map((y) => (y - 2018) * 12);
    const tops = [29, 286, 543, 799];
    const H = 217;
    const levelRange = [[-0.345, 4.265], [0.738, 2.234], [0.887, 4.13], [1.394, 3.80]];
    const rainMax = [0.727, 0.521, 0.730, 0.615];
    const levelStep = [1, 0.2, 0.5, 0.5];
    const levelDec = [0, 1, 1, 1];
    const leftGap = [19, 30, 30, 30];
    const option: any = {
      animation: false,
      backgroundColor: '#ffffff',
      grid: [], xAxis: [], yAxis: [], series: [], graphic: [],
    };
    const isMult = (v: number, s: number) => Math.abs(v / s - Math.round(v / s)) < 1e-6;
    for (let i = 0; i < 4; i++) {
      option.grid.push({ left: 58, width: 1098, top: tops[i], height: H, show: true, borderColor: '#000', borderWidth: 1, backgroundColor: 'transparent' });
      option.xAxis.push({
        type: 'value', gridIndex: i, min: -3.02, max: 62.96, minInterval: 12, maxInterval: 12,
        axisLine: { show: true, onZero: false, lineStyle: { color: '#000', width: 1 } },
        axisTick: { show: true, length: 4, inside: false, lineStyle: { color: '#000', width: 1 }, customValues: monthTicks },
        axisLabel: {
          show: i === 3, customValues: monthTicks, color: '#000', fontSize: 12.5, fontFamily: FONT, margin: 7,
          formatter: (v: number) => (isMult(v, 12) ? String(2018 + Math.round(v / 12)) : ''),
        },
        splitLine: { show: true, lineStyle: { color: '#d4d4d4', type: [4, 2], width: 0.8 } },
      });
      const st = levelStep[i];
      option.yAxis.push({
        type: 'value', gridIndex: i, position: 'left', min: levelRange[i][0], max: levelRange[i][1],
        minInterval: st, maxInterval: st,
        name: 'Water Level (m)', nameLocation: 'middle', nameGap: leftGap[i], nameRotate: 90,
        nameTextStyle: { color: '#000', fontSize: 14, fontFamily: FONT },
        axisLine: { show: true, onZero: false, lineStyle: { color: '#000', width: 1 } },
        axisTick: { show: true, length: 4, lineStyle: { color: '#000', width: 1 }, customValues: levelTicks[i] },
        axisLabel: {
          customValues: levelTicks[i], color: '#000', fontSize: 12.5, fontFamily: FONT, margin: 7,
          formatter: (v: number) => (isMult(v, st) ? v.toFixed(levelDec[i]) : ''),
        },
        splitLine: { show: true, lineStyle: { color: '#d4d4d4', type: [4, 2], width: 0.8 } },
      });
      option.yAxis.push({
        type: 'value', gridIndex: i, position: 'right', inverse: true, min: 0, max: rainMax[i],
        minInterval: 0.1, maxInterval: 0.1,
        name: 'Rainfall (mm)', nameLocation: 'middle', nameGap: 29, nameRotate: 90,
        nameTextStyle: { color: '#000', fontSize: 14, fontFamily: FONT },
        axisLine: { show: true, onZero: false, lineStyle: { color: '#000', width: 1 } },
        axisTick: { show: true, length: 4, lineStyle: { color: '#000', width: 1 }, customValues: rainTicks[i] },
        axisLabel: {
          customValues: rainTicks[i], color: '#000', fontSize: 12.5, fontFamily: FONT, margin: 8,
          formatter: (v: number) => (isMult(v, 0.1) ? v.toFixed(1) : ''),
        },
        splitLine: { show: false },
      });
      option.series.push({
        type: 'line', xAxisIndex: i, yAxisIndex: 2 * i, data: levelSeries[i], showSymbol: false, symbol: 'none',
        lineStyle: { color: '#00008b', width: 2.2 }, itemStyle: { color: '#00008b' }, z: 2, silent: true,
      });
      option.series.push({
        type: 'bar', xAxisIndex: i, yAxisIndex: 2 * i + 1, data: rainSeries[i], barWidth: 1,
        itemStyle: { color: 'rgba(255,0,0,0.5)' }, z: 3, silent: true,
      });
      option.graphic.push({
        type: 'text', x: 607, y: tops[i] - 14,
        style: { text: gaugeNames[i], fontSize: 16.5, fontFamily: FONT, fill: '#000', textAlign: 'center', textVerticalAlign: 'middle' },
      });
    }
    chart.setOption(option);
    return () => chart.dispose();
  }, []);
  return <div ref={ref} style={{ position: 'absolute', left: 0, top: 0, width: 1216, height: 1041, background: '#fff' }} />;
}
